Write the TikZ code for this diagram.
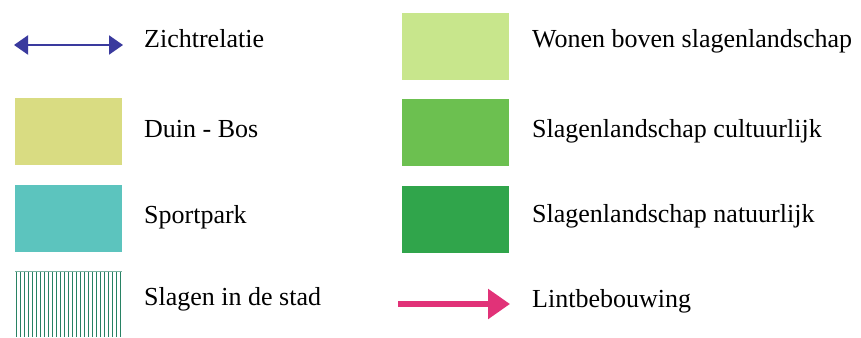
\documentclass[tikz,border=0pt]{standalone}
\usepackage{fontspec}
\setmainfont{Liberation Serif}
\usetikzlibrary{arrows.meta,calc}
\definecolor{zblue}{RGB}{58,58,158}
\definecolor{duin}{RGB}{217,220,130}
\definecolor{sport}{RGB}{92,196,190}
\definecolor{hatchc}{RGB}{40,130,100}
\definecolor{wonen}{RGB}{200,230,140}
\definecolor{cult}{RGB}{108,192,80}
\definecolor{natu}{RGB}{48,165,75}
\definecolor{lint}{RGB}{225,50,120}
\tikzset{
  swatch/.style={draw=none, minimum width=107pt, minimum height=67pt, inner sep=0pt, anchor=north west},
  lbl/.style={anchor=base west, inner sep=0pt, font=\fontsize{26pt}{30pt}\selectfont},
}
\begin{document}
\begin{tikzpicture}[x=1pt,y=-1pt]
\useasboundingbox[fill=white] (0,0) rectangle (861,337);
% left column
\coordinate (zl) at (14,45);
\coordinate (zr) at (123,45);
\draw[zblue, line width=2pt, {Triangle[length=14pt,width=19pt]}-{Triangle[length=14pt,width=19pt]}] (zl) -- (zr);
\node[lbl] (tz) at (144,48) {Zichtrelatie};

\node[swatch, fill=duin] (bduin) at (15,98) {};
\node[lbl] (tduin) at (144,137) {Duin - Bos};

\node[swatch, fill=sport] (bsport) at (15,185) {};
\node[lbl] (tsport) at (144,223) {Sportpark};

\node[swatch, minimum height=66pt] (bhatch) at (15,271) {};
\foreach \i in {0,...,26} {
  \draw[hatchc, line width=1.4pt] ($(bhatch.north west)+(1.5+4*\i,0)$) -- ($(bhatch.south west)+(1.5+4*\i,0)$);
}
\draw[hatchc!60, line width=0.6pt] (bhatch.north west) -- (bhatch.north east);
\node[lbl] (thatch) at (144,305) {Slagen in de stad};

% right column
\node[swatch, fill=wonen] (bwonen) at (402,13) {};
\node[lbl] (twonen) at (532,48) {Wonen boven slagenlandschap};

\node[swatch, fill=cult] (bcult) at (402,99) {};
\node[lbl] (tcult) at (532,137) {Slagenlandschap cultuurlijk};

\node[swatch, fill=natu] (bnatu) at (402,186) {};
\node[lbl] (tnatu) at (532,222) {Slagenlandschap natuurlijk};

\coordinate (ll) at (398,304);
\coordinate (lr) at (510,304);
\draw[lint, line width=6pt, -{Triangle[length=22pt,width=29pt]}] (ll) -- (lr);
\node[lbl] (tlint) at (532,307) {Lintbebouwing};
\end{tikzpicture}
\end{document}
